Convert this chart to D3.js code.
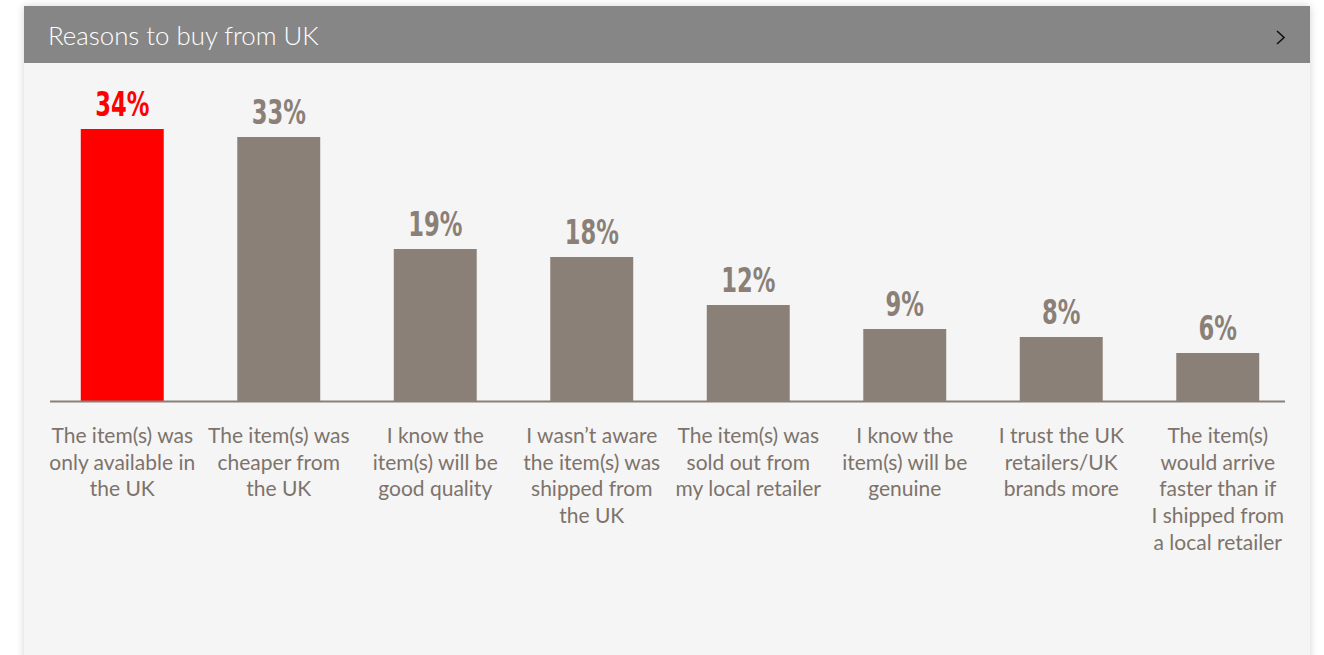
<!DOCTYPE html>
<html>
<head>
<meta charset="utf-8">
<script src="https://cdn.jsdelivr.net/npm/d3@7"></script>
<style>
  html, body { margin: 0; padding: 0; background: #ffffff; }
  svg { display: block; }
</style>
</head>
<body>
<svg id="chart" width="1324" height="655"></svg>
<script>
// Survey: reasons shoppers buy from UK retailers (% of respondents)
const title = "Reasons to buy from UK";
const categories = [
  ["The item(s) was", "only available in", "the UK"],
  ["The item(s) was", "cheaper from", "the UK"],
  ["I know the", "item(s) will be", "good quality"],
  ["I wasn\u2019t aware", "the item(s) was", "shipped from", "the UK"],
  ["The item(s) was", "sold out from", "my local retailer"],
  ["I know the", "item(s) will be", "genuine"],
  ["I trust the UK", "retailers/UK", "brands more"],
  ["The item(s)", "would arrive", "faster than if", "I shipped from", "a local retailer"]
];
const values = [34, 33, 19, 18, 12, 9, 8, 6];
const highlightIndex = 0;

const svg = d3.select("#chart");

// card with soft side shadow
const defs = svg.append("defs");
const f = defs.append("filter").attr("id", "shadow")
  .attr("x", "-5%").attr("y", "-5%").attr("width", "110%").attr("height", "110%");
f.append("feGaussianBlur").attr("in", "SourceAlpha").attr("stdDeviation", 4);
f.append("feOffset").attr("dx", 0).attr("dy", 0).attr("result", "b");
f.append("feComponentTransfer").append("feFuncA").attr("type", "linear").attr("slope", 0.18);
const m = f.append("feMerge");
m.append("feMergeNode");
m.append("feMergeNode").attr("in", "SourceGraphic");

const card = { x: 24, y: 6, w: 1286, h: 660 };
svg.append("rect").attr("x", card.x).attr("y", card.y).attr("width", card.w).attr("height", card.h)
  .attr("fill", "#f5f5f5").attr("filter", "url(#shadow)");

// header bar
svg.append("rect").attr("x", card.x).attr("y", card.y).attr("width", card.w).attr("height", 57)
  .attr("fill", "#868686");
svg.append("text").attr("x", 48).attr("y", 45)
  .attr("fill", "#ffffff")
  .style("font-family", "Lato, 'Open Sans', sans-serif")
  .style("font-weight", 300)
  .style("font-size", "25.8px")
  .text(title);
// chevron
svg.append("path").attr("d", "M1277,31 L1284,37.5 L1277,44")
  .attr("fill", "none").attr("stroke", "#111").attr("stroke-width", 1.6);

// scales
const x = d3.scaleBand()
  .domain(d3.range(values.length))
  .range([44, 1296])
  .paddingInner(0.47)
  .paddingOuter(0.235);
const y = d3.scaleLinear().domain([0, 35]).range([401, 121]);

const barColor = "#8a8077";
const hiColor = "#ff0000";

const g = svg.append("g");

g.selectAll("rect.bar").data(values).join("rect")
  .attr("class", "bar")
  .attr("x", (d, i) => x(i))
  .attr("width", x.bandwidth())
  .attr("y", d => y(d))
  .attr("height", d => y(0) - y(d))
  .attr("fill", (d, i) => i === highlightIndex ? hiColor : barColor);

// baseline
g.append("line").attr("x1", 50).attr("x2", 1285).attr("y1", y(0) + 0.5).attr("y2", y(0) + 0.5)
  .attr("stroke", barColor).attr("stroke-width", 2);

// value labels (narrow bold figures)
g.selectAll("text.val").data(values).join("text")
  .attr("class", "val")
  .attr("transform", (d, i) => `translate(${x(i) + x.bandwidth() / 2},${y(d) - 13}) scale(0.74,1)`)
  .attr("text-anchor", "middle")
  .attr("fill", (d, i) => i === highlightIndex ? hiColor : barColor)
  .style("font-family", "'DejaVu Sans Condensed', 'DejaVu Sans', sans-serif")
  .style("font-weight", 700)
  .style("font-size", "34px")
  .text(d => d + "%");

// category labels
const cat = g.selectAll("text.cat").data(categories).join("text")
  .attr("class", "cat")
  .attr("x", (d, i) => x(i) + x.bandwidth() / 2)
  .attr("y", 443)
  .attr("text-anchor", "middle")
  .attr("fill", "#7d736b")
  .style("font-family", "Lato, 'Open Sans', sans-serif")
  .style("font-size", "21px");
cat.selectAll("tspan").data((d, i) => d.map(s => ({ s, i }))).join("tspan")
  .attr("x", d => x(d.i) + x.bandwidth() / 2)
  .attr("dy", (d, j) => j === 0 ? 0 : 26.7)
  .text(d => d.s);
</script>
</body>
</html>
